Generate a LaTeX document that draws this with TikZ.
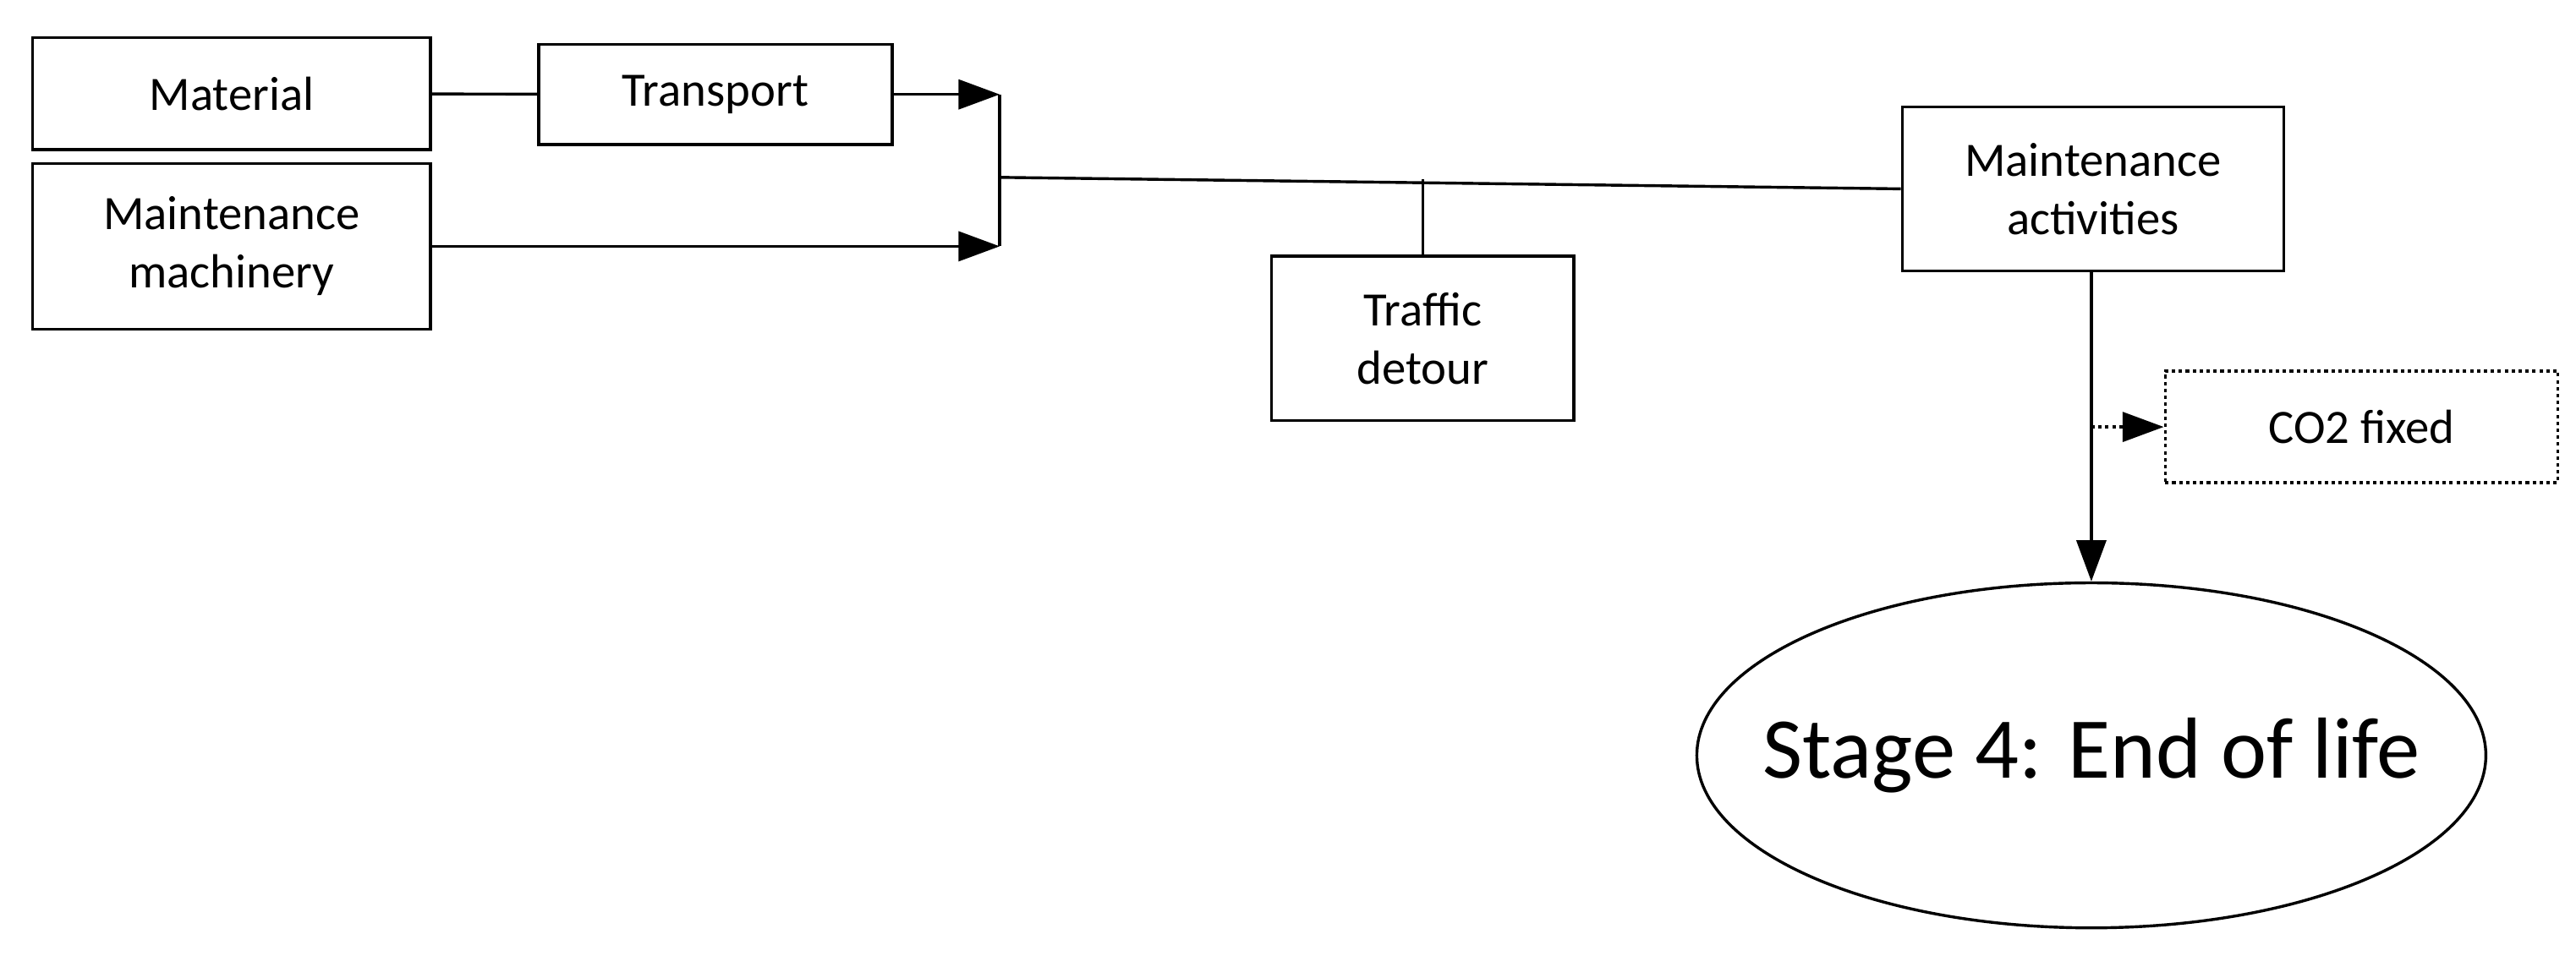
\documentclass[tikz,border=0pt]{standalone}
\usepackage{fontspec}
\setmainfont{Carlito}
\usetikzlibrary{arrows.meta,shapes.geometric}
\tikzset{block/.style={draw, line width=0.5pt, align=center, inner sep=0pt, font=\fontsize{8.3}{10.1}\selectfont}}
\tikzset{fixed/.style={block, dash pattern=on 0.6pt off 0.6pt}}
\tikzset{flow/.style={line width=0.5pt, -{Triangle[length=2.5mm, width=1.8mm]}}}

\begin{document}
\begin{tikzpicture}[x=0.01cm, y=-0.01cm]
\useasboundingbox (0,0) rectangle (1568,582.2);
\node [block, minimum width=2.42cm, minimum height=0.68cm] (mat) at (141,57) {Material};
\node [block, minimum width=2.15cm, minimum height=0.61cm] (trans) at (435.5,57.5) {Transport};
\node [block, minimum width=2.42cm, minimum height=1.01cm] (mach) at (141,150) {Maintenance\\machinery};
\node [block, minimum width=1.84cm, minimum height=1.00cm] (traffic) at (866,206) {Traffic\\detour};
\node [block, minimum width=2.32cm, minimum height=1.00cm] (act) at (1274,115) {Maintenance\\activities};
\node [fixed, minimum width=2.39cm, minimum height=0.68cm] (co2) at (1437.5,260) {CO2 fixed};
\node [ellipse, draw, line width=0.5pt, inner sep=0pt, minimum width=4.80cm, minimum height=2.10cm,
  label={[font=\fontsize{15}{18}\selectfont]center:Stage 4: End of life}] (eol) at (1273,460) {};
\coordinate (topjoin) at (608.5,57.5);
\coordinate (botjoin) at (608.5,150);
\coordinate (midjoin) at (608.5,108);
\coordinate (detour) at (866,109);
\coordinate (split) at (1273,260);
% inputs
\draw [line width=0.5pt] (mat) -- (trans);
\draw [flow] (trans) -- (topjoin);
\draw [flow] (mach) -- (botjoin);
\draw [line width=0.5pt] (topjoin) -- (botjoin);
\draw [line width=0.5pt] (midjoin) -- (act.west);
\draw [line width=0.5pt] (detour) -- (traffic);
% outputs
\draw [flow] (act.south -| eol.north) -- (eol.north);
\draw [flow, dash pattern=on 0.6pt off 0.6pt] (split) -- (co2);
\end{tikzpicture}
\end{document}
